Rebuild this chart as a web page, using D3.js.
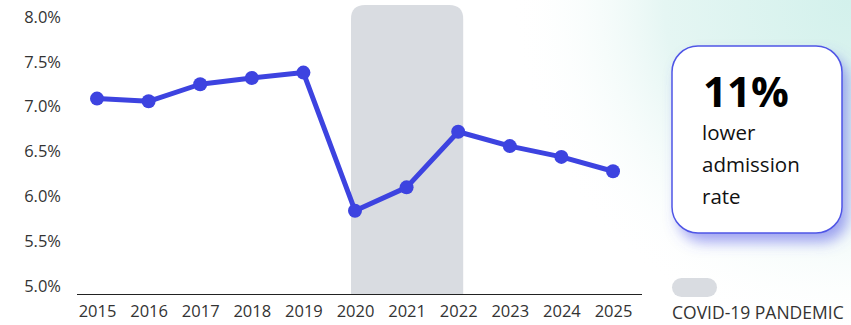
<!DOCTYPE html>
<html>
<head>
<meta charset="utf-8">
<script src="https://cdn.jsdelivr.net/npm/d3@7"></script>
<style>
  html, body { margin: 0; padding: 0; background: #fff; }
  svg { display: block; font-family: "Open Sans", "Noto Sans", sans-serif; }
</style>
</head>
<body>
<svg id="chart" width="851" height="325"></svg>
<script>
// Admission rate by year
const years = [2015, 2016, 2017, 2018, 2019, 2020, 2021, 2022, 2023, 2024, 2025];
const rates = [7.09, 7.06, 7.25, 7.32, 7.38, 5.84, 6.10, 6.72, 6.56, 6.44, 6.28];
const yTicks = [5.0, 5.5, 6.0, 6.5, 7.0, 7.5, 8.0];
const pandemicSpan = [2020, 2022];
const calloutLines = ["11%", "lower", "admission", "rate"];
const legendLabel = "COVID-19 PANDEMIC";

const svg = d3.select("#chart");
const defs = svg.append("defs");

// soft mint wash in the upper-right corner
const wash = defs.append("radialGradient")
  .attr("id", "wash").attr("gradientUnits", "userSpaceOnUse")
  .attr("cx", 851).attr("cy", 0).attr("r", 340);
wash.append("stop").attr("offset", "0%").attr("stop-color", "#d3f1ec");
wash.append("stop").attr("offset", "55%").attr("stop-color", "#e5f6f3");
wash.append("stop").attr("offset", "100%").attr("stop-color", "#ffffff").attr("stop-opacity", 0);
svg.append("rect").attr("x", 0).attr("y", 0).attr("width", 851).attr("height", 325)
  .attr("fill", "url(#wash)");

const shadow = defs.append("filter").attr("id", "glow")
  .attr("x", "-20%").attr("y", "-20%").attr("width", "150%").attr("height", "150%");
shadow.append("feDropShadow").attr("dx", 6).attr("dy", 9).attr("stdDeviation", 7)
  .attr("flood-color", "#5558e8").attr("flood-opacity", 0.55);

const x = d3.scalePoint().domain(years).range([97, 613]);
const y = d3.scaleLinear().domain([5.0, 8.0]).range([286, 17]);
const axisY = 294;
const labelFont = 16.5;

// pandemic band with rounded top
const bx0 = x(pandemicSpan[0]) - 4, bx1 = x(pandemicSpan[1]) + 5, bTop = 5, r = 14;
svg.append("path")
  .attr("d", `M${bx0},${axisY} V${bTop + r} Q${bx0},${bTop} ${bx0 + r},${bTop} H${bx1 - r} Q${bx1},${bTop} ${bx1},${bTop + r} V${axisY} Z`)
  .attr("fill", "#d9dce1");

// y tick labels
svg.append("g").selectAll("text").data(yTicks).join("text")
  .attr("x", 61).attr("y", d => y(d)).attr("dy", "0.35em")
  .attr("text-anchor", "end").attr("font-size", labelFont).attr("fill", "#333")
  .text(d => d.toFixed(1) + "%");

// x axis
const xAxis = d3.axisBottom(x).tickSize(0).tickPadding(11).tickFormat(d3.format("d"));
const gx = svg.append("g").attr("transform", `translate(0,${axisY})`).call(xAxis);
gx.select(".domain").attr("d", `M77,0.5H642`).attr("stroke", "#222").attr("stroke-width", 1);
gx.selectAll("text").attr("font-size", labelFont).attr("fill", "#333")
  .attr("font-family", "'Open Sans', 'Noto Sans', sans-serif");

// rate line
const line = d3.line().x((d, i) => x(years[i])).y(d => y(d));
svg.append("path").datum(rates).attr("d", line)
  .attr("fill", "none").attr("stroke", "#3d43e0").attr("stroke-width", 5)
  .attr("stroke-linejoin", "round");
svg.append("g").selectAll("circle").data(rates).join("circle")
  .attr("cx", (d, i) => x(years[i])).attr("cy", d => y(d)).attr("r", 7)
  .attr("fill", "#3d43e0");

// callout card
svg.append("rect").attr("x", 672).attr("y", 46).attr("width", 170).attr("height", 187)
  .attr("rx", 26).attr("fill", "#fff").attr("filter", "url(#glow)");
svg.append("rect").attr("x", 672).attr("y", 46).attr("width", 170).attr("height", 187)
  .attr("rx", 26).attr("fill", "#fff").attr("stroke", "#4f55e6").attr("stroke-width", 1.5);
svg.append("text").attr("x", 703).attr("y", 107).attr("font-size", 42).attr("font-weight", 700)
  .attr("fill", "#000").text(calloutLines[0]);
svg.append("g").selectAll("text").data(calloutLines.slice(1)).join("text")
  .attr("x", 702).attr("y", (d, i) => 140 + i * 32).attr("font-size", 20.5).attr("fill", "#111")
  .text(d => d);

// legend
svg.append("rect").attr("x", 672).attr("y", 278).attr("width", 45).attr("height", 19)
  .attr("rx", 9.5).attr("fill", "#d9dce1");
svg.append("text").attr("x", 672).attr("y", 319).attr("font-size", 17.5).attr("fill", "#333")
  .text(legendLabel);
</script>
</body>
</html>
